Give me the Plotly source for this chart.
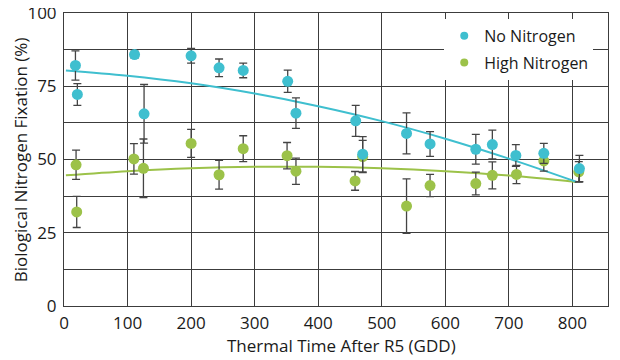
import plotly.graph_objects as go

# ---- data ----
no_n_x = [18, 21, 111, 126, 200, 244, 282, 352, 365, 459, 470, 539, 576, 648, 674, 711, 755, 811]
no_n_y = [82.1, 72.2, 85.8, 65.6, 85.4, 81.3, 80.4, 76.7, 65.8, 63.2, 51.8, 58.9, 55.3, 53.5, 55.1, 51.4, 52.1, 46.9]
no_n_err = [5.0, 3.7, 1.2, 10.0, 2.5, 3.0, 2.5, 3.8, 5.2, 5.3, 6.0, 7.0, 4.2, 5.1, 4.9, 3.7, 3.4, 4.5]

high_n_x = [19, 20, 110, 125, 200, 244, 282, 351, 365, 458, 470, 539, 576, 648, 674, 712, 755, 810]
high_n_y = [48.2, 32.1, 50.2, 47.0, 55.5, 44.8, 53.7, 51.3, 46.0, 42.7, 51.0, 34.1, 41.1, 41.8, 44.6, 44.9, 49.5, 45.8]
high_n_err = [5.0, 5.3, 5.2, 10.0, 4.8, 4.9, 4.4, 4.5, 4.5, 3.2, 5.5, 9.3, 3.8, 3.9, 4.6, 3.1, 3.5, 3.5]

# trend curves
trend_x = [3, 100, 200, 300, 400, 500, 600, 700, 806]
trend_no_n = [80.4, 78.6, 76.0, 72.5, 68.2, 63.1, 57.1, 50.3, 42.4]
trend_high_n = [44.6, 46.0, 47.0, 47.5, 47.5, 47.0, 46.0, 44.5, 42.3]

y_ticks = [0, 25, 50, 75, 100]
x_ticks = [0, 100, 200, 300, 400, 500, 600, 700, 800]

x_title = "Thermal Time After R5 (GDD)"
y_title = "Biological Nitrogen Fixation (%)"

BLUE = "#3fbfcf"
GREEN = "#9cc249"
GRID = "#3c3c3c"
ERR = "#444444"
FONT = "Open Sans"

fig = go.Figure()

fig.add_trace(go.Scatter(x=trend_x, y=trend_high_n, mode="lines", line=dict(color=GREEN, width=2, shape="spline"),
                         showlegend=False, hoverinfo="skip"))
fig.add_trace(go.Scatter(x=trend_x, y=trend_no_n, mode="lines", line=dict(color=BLUE, width=2, shape="spline"),
                         showlegend=False, hoverinfo="skip"))

fig.add_trace(go.Scatter(x=high_n_x, y=high_n_y, mode="markers", name="High Nitrogen",
                         marker=dict(color=GREEN, size=11), showlegend=False,
                         error_y=dict(type="data", array=high_n_err, color=ERR, thickness=1.3, width=4)))
fig.add_trace(go.Scatter(x=no_n_x, y=no_n_y, mode="markers", name="No Nitrogen",
                         marker=dict(color=BLUE, size=11), showlegend=False,
                         error_y=dict(type="data", array=no_n_err, color=ERR, thickness=1.3, width=4)))

# legend entries (smaller symbols, as in the reference)
fig.add_trace(go.Scatter(x=[None], y=[None], mode="markers", name="No Nitrogen",
                         marker=dict(color=BLUE, size=8), legendgroup="a"))
fig.add_trace(go.Scatter(x=[None], y=[None], mode="markers", name="High Nitrogen",
                         marker=dict(color=GREEN, size=8), legendgroup="b"))

# the page body adds an 8px offset, so the figure is 612x352 with matching margins
fig.update_layout(
    width=612, height=352,
    margin=dict(l=56, r=12, t=5, b=54, autoexpand=False),
    paper_bgcolor="white", plot_bgcolor="white",
    font=dict(family=FONT, size=17, color="#1a1a1a"),
    legend=dict(x=0.699, y=0.98, xanchor="left", yanchor="top",
                bgcolor="white", borderwidth=0, font=dict(size=16),
                itemsizing="trace", traceorder="grouped", tracegroupgap=3),
    xaxis=dict(range=[0, 856], tickvals=x_ticks, ticktext=[str(v) for v in x_ticks],
               showgrid=True, gridcolor=GRID, gridwidth=1, automargin=False,
               showline=True, linecolor=GRID, linewidth=1, mirror=True,
               zeroline=False, ticks="", tickfont=dict(size=17), ticklabelstandoff=2),
    yaxis=dict(range=[0, 100], tickvals=y_ticks, ticktext=[str(v) for v in y_ticks],
               showgrid=True, gridcolor=GRID, gridwidth=1, automargin=False,
               minor=dict(dtick=12.5, tick0=0, showgrid=True, gridcolor=GRID, gridwidth=1),
               showline=True, linecolor=GRID, linewidth=1, mirror=True,
               zeroline=False, ticks="", tickfont=dict(size=17), ticklabelstandoff=3,
               ticklabeloverflow="allow"),
    annotations=[
        dict(text=x_title, xref="paper", yref="paper", x=0.51, y=-0.1365,
             xanchor="center", yanchor="middle", showarrow=False, font=dict(size=17)),
        dict(text=y_title, xref="paper", yref="paper", x=-0.0795, y=0.5,
             xanchor="center", yanchor="middle", showarrow=False, textangle=-90, font=dict(size=17)),
    ],
)

fig.write_html("out.html")
